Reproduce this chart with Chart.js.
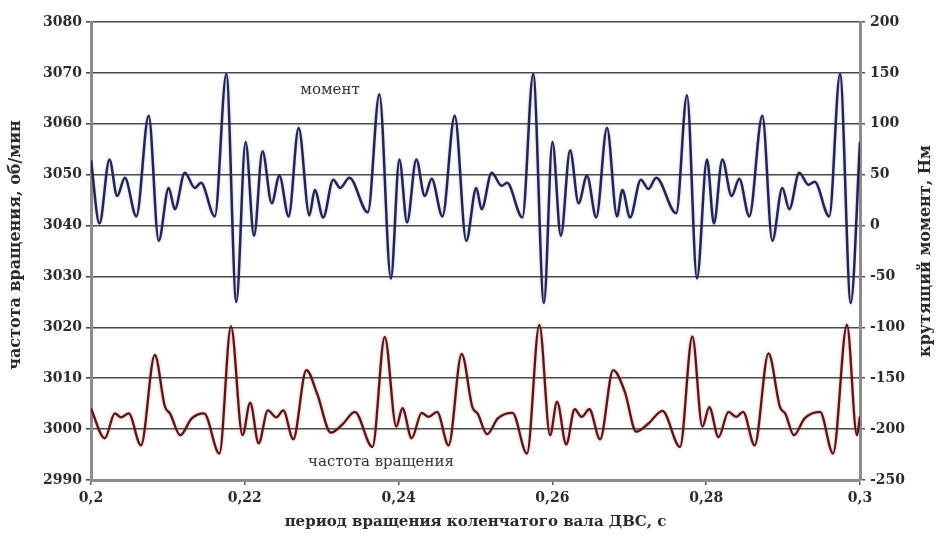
<!DOCTYPE html>
<html>
<head>
<meta charset="utf-8">
<script src="https://cdn.jsdelivr.net/npm/chart.js@4/dist/chart.umd.min.js"></script>
<style>
  html, body { margin: 0; padding: 0; background: #fff; }
  canvas { display: block; }
</style>
</head>
<body>
<canvas id="engineChart" width="943" height="539"></canvas>
<script>
// крутящий момент, Нм (правая ось), время в секундах
var momentTime = [0.2000, 0.2011, 0.2024, 0.2034, 0.2044, 0.2059, 0.2075, 0.2088, 0.2101, 0.2109,
  0.2122, 0.2135, 0.2143, 0.2161, 0.2176, 0.2189, 0.2201, 0.2212, 0.2223, 0.2235,
  0.2245, 0.2257, 0.2270, 0.2284, 0.2291, 0.2302, 0.2315, 0.2324, 0.2336, 0.2360,
  0.2375, 0.2390, 0.2401, 0.2411, 0.2423, 0.2434, 0.2443, 0.2457, 0.2473, 0.2488,
  0.2501, 0.2508, 0.2521, 0.2534, 0.2541, 0.2561, 0.2575, 0.2589, 0.2600, 0.2611,
  0.2623, 0.2634, 0.2645, 0.2657, 0.2671, 0.2684, 0.2691, 0.2701, 0.2715, 0.2725,
  0.2735, 0.2761, 0.2775, 0.2788, 0.2801, 0.2810, 0.2821, 0.2833, 0.2843, 0.2856,
  0.2873, 0.2886, 0.2899, 0.2908, 0.2921, 0.2933, 0.2941, 0.2960, 0.2974, 0.2988, 0.3000];
var momentValue = [64, 2, 65, 29, 47, 9, 108, -15, 37, 16,
  52, 37, 42, 9, 149, -75, 82, -10, 73, 22,
  49, 9, 96, 10, 35, 8, 45, 37, 47, 13,
  129, -52, 65, 3, 65, 29, 46, 9, 108, -15,
  37, 16, 52, 39, 42, 8, 149, -76, 82, -10,
  74, 22, 49, 8, 96, 9, 35, 8, 45, 36,
  47, 12, 128, -52, 65, 2, 65, 29, 46, 9,
  108, -15, 37, 16, 52, 40, 43, 9, 149, -76, 82];

// частота вращения, об/мин (левая ось)
var freqTime = [0.2000, 0.2018, 0.2031, 0.2039, 0.2049, 0.2065, 0.2083, 0.2096, 0.2103, 0.2116,
  0.2131, 0.2147, 0.2167, 0.2182, 0.2197, 0.2207, 0.2218, 0.2230, 0.2241, 0.2250,
  0.2263, 0.2280, 0.2294, 0.2312, 0.2328, 0.2343, 0.2366, 0.2382, 0.2397, 0.2405,
  0.2417, 0.2430, 0.2439, 0.2450, 0.2465, 0.2482, 0.2496, 0.2503, 0.2515, 0.2529,
  0.2548, 0.2567, 0.2583, 0.2597, 0.2606, 0.2618, 0.2629, 0.2638, 0.2648, 0.2662,
  0.2679, 0.2694, 0.2709, 0.2725, 0.2743, 0.2766, 0.2782, 0.2795, 0.2804, 0.2816,
  0.2829, 0.2839, 0.2848, 0.2863, 0.2881, 0.2896, 0.2903, 0.2914, 0.2928, 0.2948,
  0.2965, 0.2983, 0.2996, 0.3000];
var freqValue = [3004.0, 2998.2, 3003.1, 3002.3, 3003.1, 2996.8, 3014.6, 3004.5, 3003.0, 2998.8,
  3002.1, 3003.1, 2995.2, 3020.2, 2998.8, 3005.2, 2997.2, 3003.7, 3002.3, 3003.7,
  2998.0, 3011.6, 3007.0, 2999.3, 3001.1, 3003.4, 2996.5, 3018.1, 3000.5, 3004.1,
  2998.2, 3003.2, 3002.4, 3003.4, 2996.8, 3014.8, 3004.3, 3003.0, 2999.0, 3002.1,
  3003.2, 2995.2, 3020.5, 2998.8, 3005.4, 2997.0, 3003.9, 3002.4, 3003.9, 2998.0,
  3011.6, 3007.4, 2999.5, 3001.1, 3003.6, 2996.5, 3018.2, 3000.5, 3004.3, 2998.4,
  3003.4, 3002.4, 3003.4, 2996.8, 3014.9, 3004.3, 3003.0, 2998.8, 3002.1, 3003.4,
  2995.2, 3020.5, 2998.8, 3002.5];

// подписи
var xTitle = 'период вращения коленчатого вала ДВС, с';
var yLeftTitle = 'частота вращения, об/мин';
var yRightTitle = 'крутящий момент, Нм';
var momentLabel = 'момент';
var freqLabel = 'частота вращения';

function toPoints(xs, ys) {
  return xs.map(function (x, i) { return { x: x, y: ys[i] }; });
}

function commaNum(v) {
  return String(Number(v.toFixed(3))).replace('.', ',');
}

var tickFont = { family: 'DejaVu Serif', size: 14, weight: 'bold' };

// белый фон + подсветка линий
var bgPlugin = {
  id: 'bg',
  beforeDraw: function (chart) {
    var c = chart.ctx;
    c.save();
    c.fillStyle = '#fff';
    c.fillRect(0, 0, chart.width, chart.height);
    c.restore();
  },
  beforeDatasetDraw: function (chart, args) {
    var ds = chart.data.datasets[args.index];
    chart.ctx.save();
    chart.ctx.shadowColor = ds.glow;
    chart.ctx.shadowBlur = 3;
  },
  afterDatasetDraw: function (chart) {
    chart.ctx.restore();
  }
};

// подписи осей и кривых
var textPlugin = {
  id: 'texts',
  afterDraw: function (chart) {
    var c = chart.ctx;
    var a = chart.chartArea;
    var midY = (a.top + a.bottom) / 2;
    c.save();
    c.fillStyle = '#2b2b2b';
    c.textAlign = 'center';
    c.textBaseline = 'middle';
    c.font = 'bold 15px "DejaVu Serif"';
    c.fillText(xTitle, (a.left + a.right) / 2, 522);

    c.save();
    c.translate(16, midY - 6);
    c.rotate(-Math.PI / 2);
    c.font = 'bold 16px "DejaVu Serif"';
    c.fillText(yLeftTitle, 0, 0);
    c.restore();

    c.save();
    c.translate(926, midY);
    c.rotate(-Math.PI / 2);
    c.font = 'bold 16px "DejaVu Serif"';
    c.fillText(yRightTitle, 0, 0);
    c.restore();

    c.font = '15px "DejaVu Serif"';
    c.fillStyle = '#333';
    c.fillText(momentLabel, 330, 90);
    c.fillText(freqLabel, 381, 462);
    c.restore();
  }
};

var ctx = document.getElementById('engineChart').getContext('2d');
var engineChart = new Chart(ctx, {
  type: 'line',
  data: {
    datasets: [{
      label: momentLabel,
      data: toPoints(momentTime, momentValue),
      yAxisID: 'y1',
      borderColor: '#23254f',
      glow: 'rgba(80,90,170,0.35)',
      borderWidth: 2.5,
      pointRadius: 0,
      cubicInterpolationMode: 'monotone',
      fill: false
    }, {
      label: freqLabel,
      data: toPoints(freqTime, freqValue),
      yAxisID: 'y',
      borderColor: '#4e1a1c',
      glow: 'rgba(225,70,70,0.55)',
      borderWidth: 2.3,
      pointRadius: 0,
      cubicInterpolationMode: 'monotone',
      fill: false
    }]
  },
  options: {
    responsive: false,
    animation: false,
    layout: { padding: { top: 22, left: 0, right: 0, bottom: 0 } },
    plugins: {
      legend: { display: false },
      tooltip: { enabled: false }
    },
    scales: {
      x: {
        type: 'linear',
        min: 0.2,
        max: 0.3,
        afterFit: function (s) { s.height = 59; },
        ticks: {
          stepSize: 0.02,
          color: '#2b2b2b',
          font: tickFont,
          padding: 5,
          maxRotation: 0,
          callback: function (v) { return commaNum(v); }
        },
        grid: { drawOnChartArea: false, drawTicks: true, tickLength: 5, color: '#555', lineWidth: 1.5 },
        border: { color: '#8c8c8c', width: 3 }
      },
      y: {
        position: 'left',
        min: 2990,
        max: 3080,
        afterFit: function (s) { s.width = 91; },
        ticks: {
          stepSize: 10,
          color: '#2b2b2b',
          font: tickFont,
          padding: 4,
          callback: function (v) { return String(v); }
        },
        grid: { color: '#4a4a4a', lineWidth: 1.6, tickLength: 5 },
        border: { color: '#8c8c8c', width: 3 }
      },
      y1: {
        position: 'right',
        min: -250,
        max: 200,
        afterFit: function (s) { s.width = 83; },
        ticks: {
          stepSize: 50,
          color: '#2b2b2b',
          font: tickFont,
          padding: 5,
          callback: function (v) { return String(v); }
        },
        grid: { drawOnChartArea: false, tickLength: 5, color: '#555', lineWidth: 1.5 },
        border: { color: '#8c8c8c', width: 3 }
      }
    }
  },
  plugins: [bgPlugin, textPlugin]
});
</script>
</body>
</html>
